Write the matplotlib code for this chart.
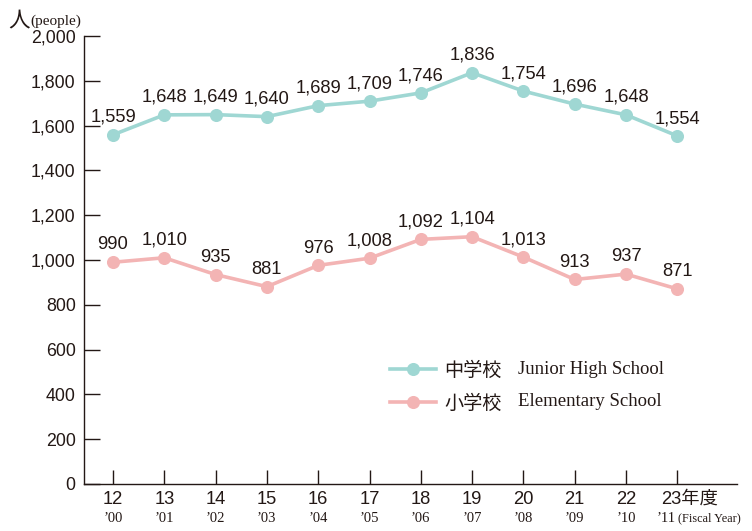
import matplotlib
matplotlib.use("Agg")
import matplotlib.pyplot as plt
from matplotlib.lines import Line2D
import matplotlib.transforms as mtransforms

# ---- data ----
fy_jp = ["12", "13", "14", "15", "16", "17", "18", "19", "20", "21", "22", "23"]
fy_en = ["\u201900", "\u201901", "\u201902", "\u201903", "\u201904", "\u201905",
         "\u201906", "\u201907", "\u201908", "\u201909", "\u201910", "\u201911"]
junior_high = [1559, 1648, 1649, 1640, 1689, 1709, 1746, 1836, 1754, 1696, 1648, 1554]
elementary = [990, 1010, 935, 881, 976, 1008, 1092, 1104, 1013, 913, 937, 871]
yticks = list(range(0, 2001, 200))

TEAL = "#9fd7d3"
PINK = "#f3b4b4"
INK = "#231815"
SANS = ["Liberation Sans", "Noto Sans CJK JP"]
SERIF = ["Liberation Serif", "Noto Sans CJK JP"]
CJK = ["Noto Sans CJK JP", "DejaVu Sans"]

fig = plt.figure(figsize=(7.52, 5.31), dpi=100)
W, H = 752, 531
ax = fig.add_axes([84 / W, 1 - 484 / H, (737 - 84) / W, (484 - 36) / H])

x = list(range(len(fy_jp)))
ax.plot(x, junior_high, color=TEAL, lw=2.6, marker="o", ms=8.4, zorder=3, clip_on=False)
ax.plot(x, elementary, color=PINK, lw=2.6, marker="o", ms=8.4, zorder=3, clip_on=False)

for xi, v in zip(x, junior_high):
    ax.annotate(f"{v:,}", (xi, v), xytext=(0, 12.5), textcoords="offset points",
                ha="center", va="center", fontsize=13.2, family=SANS, color=INK)
for xi, v in zip(x, elementary):
    ax.annotate(f"{v:,}", (xi, v), xytext=(0, 12.5), textcoords="offset points",
                ha="center", va="center", fontsize=13.2, family=SANS, color=INK)

ax.set_xlim((84 - 113) / 51.3, (737 - 113) / 51.3)
ax.set_ylim(0, 2000)
ax.set_yticks(yticks)
ax.set_yticklabels([f"{t:,}" for t in yticks], family=SANS, fontsize=12.8, color=INK)
ax.set_xticks(x)
ax.set_xticklabels([""] * len(x))

for s in ["top", "right"]:
    ax.spines[s].set_visible(False)
for s in ["left", "bottom"]:
    ax.spines[s].set_color(INK)
    ax.spines[s].set_linewidth(1.0)
ax.tick_params(axis="y", direction="in", length=11.5, width=1.0, color=INK, pad=6)
ax.tick_params(axis="x", direction="in", length=10, width=1.0, color=INK)

trans = mtransforms.blended_transform_factory(ax.transData, ax.transAxes)
n = len(x)
for i, (jp, en) in enumerate(zip(fy_jp, fy_en)):
    if i < n - 1:
        ax.annotate(jp, (i, 0), xycoords=trans, xytext=(0, -11), textcoords="offset points",
                    ha="center", va="center", fontsize=13.2, family=SANS, color=INK)
        ax.annotate(en, (i, 0), xycoords=trans, xytext=(0, -25), textcoords="offset points",
                    ha="center", va="center", fontsize=10.5, family=SERIF, color=INK)
    else:
        ax.annotate(jp + "年度", (i, 0), xycoords=trans, xytext=(-11.8, -11),
                    textcoords="offset points", ha="left", va="center",
                    fontsize=13.2, family=SANS, color=INK)
        ax.annotate(en, (i, 0), xycoords=trans, xytext=(-14.8, -25),
                    textcoords="offset points", ha="left", va="center",
                    fontsize=10.5, family=SERIF, color=INK)
        ax.annotate("(Fiscal Year)", (i, 0), xycoords=trans, xytext=(0.3, -25),
                    textcoords="offset points", ha="left", va="center",
                    fontsize=8.8, family=SERIF, color=INK)

# y-axis unit
fig.text(8 / W, 1 - 20 / H, "人", family=CJK, fontsize=15.5, color=INK, ha="left", va="center")
fig.text(30 / W, 1 - 21 / H, "(people)", family=SERIF, fontsize=11, color=INK, ha="left", va="center")

# legend
handles = [Line2D([], [], color=TEAL, lw=2.6, marker="o", ms=8.4),
           Line2D([], [], color=PINK, lw=2.6, marker="o", ms=8.4)]
leg = ax.legend(handles, ["中学校", "小学校"], loc="upper left",
                bbox_to_anchor=((390 - 84) / 653, (484 - 360) / 448),
                frameon=False, borderpad=0, borderaxespad=0, handlelength=2.4,
                handletextpad=0.45, labelspacing=0.6,
                prop={"family": CJK, "size": 13.8})
for t in leg.get_texts():
    t.set_color(INK)
ax.text((518 - 84) / 653, (484 - 370) / 448, "Junior High School", transform=ax.transAxes,
        family=SERIF, fontsize=13.5, color=INK, ha="left", va="center")
ax.text((518 - 84) / 653, (484 - 401) / 448, "Elementary School", transform=ax.transAxes,
        family=SERIF, fontsize=13.5, color=INK, ha="left", va="center")

fig.savefig("out.png", dpi=100)
